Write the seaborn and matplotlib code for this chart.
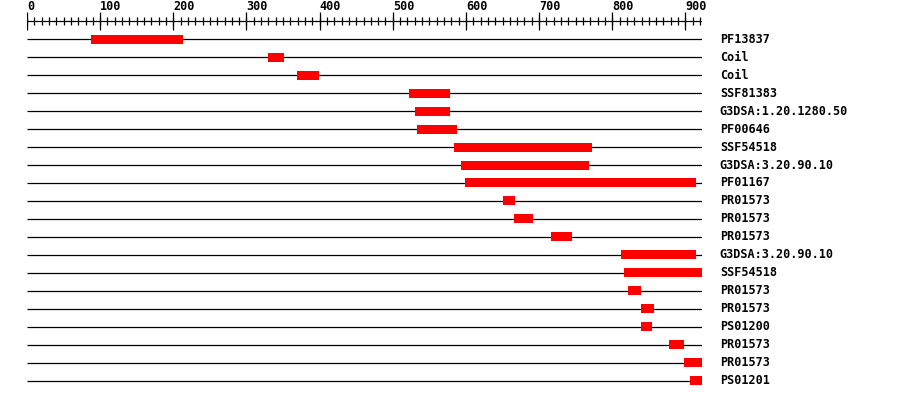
import numpy as np
import seaborn as sns
import matplotlib
matplotlib.use("Agg")
import matplotlib.pyplot as plt

# domain annotations (residue start / end)
labels = ['PF13837', 'Coil', 'Coil', 'SSF81383', 'G3DSA:1.20.1280.50', 'PF00646',
          'SSF54518', 'G3DSA:3.20.90.10', 'PF01167', 'PR01573', 'PR01573', 'PR01573',
          'G3DSA:3.20.90.10', 'SSF54518', 'PR01573', 'PR01573', 'PS01200', 'PR01573',
          'PR01573', 'PS01201']
starts = [88, 329, 369, 522, 530, 533, 584, 593, 599, 651, 666, 716,
          812, 816, 822, 839, 839, 878, 898, 906]
ends = [213, 351, 399, 578, 578, 588, 772, 768, 915, 667, 692, 745,
        915, 922, 839, 857, 854, 898, 922, 922]
seq_len = 922
major_ticks = list(range(0, 901, 100))
minor_ticks = list(range(0, 921, 10))

sns.set_style("white")
plt.rcParams['font.family'] = ['DejaVu Sans Mono', 'DejaVu Sans']
plt.rcParams['text.color'] = 'black'

fig = plt.figure(figsize=(9, 4), dpi=100)
ax = fig.add_axes([27 / 900, 0, 674.5 / 900, 1])
n = len(labels)
rows = np.arange(n)

# backbone lines
ax.hlines(rows, 0, seq_len, color='black', lw=0.9, zorder=1)
# domain boxes
ax.barh(rows, np.array(ends) - np.array(starts), left=starts, height=0.5,
        color='#ff0000', linewidth=0, antialiased=False, zorder=3)
for i, lab in enumerate(labels):
    ax.text(947, i, lab, va='center', ha='left', fontsize=8.5,
            fontweight='bold', color='black', clip_on=False)

# ruler on top
ax.hlines(-1, 0, seq_len, color='black', lw=0.9)
ax.vlines(minor_ticks, -1 - 0.2, -1 + 0.2, color='black', lw=0.9)
ax.vlines(major_ticks, -1 - 0.5, -1 + 0.5, color='black', lw=0.9)
for t in major_ticks:
    ax.text(t, -1.47, str(t), ha='left', va='bottom', fontsize=8.5,
            fontweight='bold', color='black', clip_on=False)

ax.set_xlim(0, seq_len)
ax.set_ylim(20.0556, -2.1667)
ax.axis('off')

fig.savefig('out.png', dpi=100)
